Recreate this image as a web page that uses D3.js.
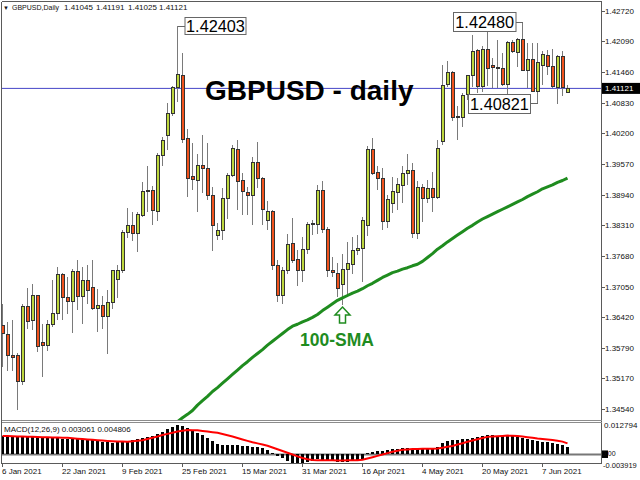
<!DOCTYPE html>
<html><head><meta charset="utf-8">
<script src="https://cdn.jsdelivr.net/npm/d3@7"></script>
<style>
body{margin:0;background:#fff}
svg{display:block}
text{font-family:"Liberation Sans",Arial,sans-serif}
</style>
</head><body>
<svg id="chart" width="640" height="480"></svg>
<script>
// ---------------- DATA ----------------
const symbolTitle = "GBPUSD - daily";
const headerText = ["GBPUSD,Daily", "1.41045", "1.41191", "1.41025", "1.41121"];
const firstDay = "2021-01-06", lastDay = "2021-06-14";

const open = [1.3626,1.3607,1.3563,1.3564,1.3511,1.3664,1.3636,1.3686,1.3591,1.3584,
1.3628,1.3650,1.3730,1.3683,1.3675,1.3737,1.3685,1.3718,1.3703,1.3660,
1.3667,1.3644,1.3672,1.3720,1.3738,1.3816,1.3830,1.3814,1.3851,1.3900,
1.3902,1.3859,1.3974,1.4015,1.4061,1.4114,1.4138,1.4010,1.3932,1.3924,
1.3953,1.3948,1.3893,1.3810,1.3820,1.3887,1.3934,1.3987,1.3924,1.3899,
1.3892,1.3960,1.3928,1.3841,1.3860,1.3748,1.3686,1.3738,1.3794,1.3761,
1.3738,1.3782,1.3833,1.3833,1.3902,1.3823,1.3738,1.3732,1.3710,1.3741,
1.3751,1.3779,1.3784,1.3830,1.3987,1.3939,1.3928,1.3839,1.3876,1.3898,
1.3912,1.3937,1.3943,1.3814,1.3909,1.3886,1.3907,1.3889,1.4003,1.4120,
1.4144,1.4055,1.4053,1.4099,1.4138,1.4190,1.4115,1.4192,1.4159,1.4156,
1.4152,1.4120,1.4207,1.4185,1.4213,1.4149,1.4172,1.4106,1.4159,1.4179,
1.4157,1.4113,1.4178,1.41045];
const high = [1.3670,1.3633,1.3636,1.3568,1.3670,1.3703,1.3710,1.3688,1.3629,1.3636,
1.3718,1.3746,1.3734,1.3724,1.3742,1.3760,1.3746,1.3749,1.3760,1.3701,
1.3685,1.3698,1.3739,1.3749,1.3821,1.3866,1.3859,1.3859,1.3919,1.3953,
1.3911,1.3979,1.4012,1.4082,1.4116,1.42403,1.4184,1.4029,1.4000,1.3978,
1.4017,1.3999,1.3910,1.3835,1.3907,1.3938,1.3996,1.4007,1.3938,1.3910,
1.3972,1.4003,1.3931,1.3880,1.3863,1.3760,1.3746,1.3814,1.3847,1.3780,
1.3808,1.3838,1.3842,1.3914,1.3921,1.3828,1.3766,1.3753,1.3773,1.3797,
1.3808,1.3811,1.3849,1.3994,1.4010,1.3952,1.3948,1.3893,1.3931,1.3928,
1.3952,1.3978,1.3959,1.3921,1.3916,1.3924,1.3941,1.4007,1.4161,1.4168,
1.4147,1.4075,1.4103,1.4140,1.4221,1.4192,1.4199,1.4234,1.4175,1.4212,
1.4185,1.4209,1.4212,1.4216,1.4248,1.4205,1.4205,1.4205,1.4188,1.4190,
1.4192,1.4181,1.4188,1.41191];
const low = [1.3540,1.3533,1.3533,1.3451,1.3504,1.3618,1.3617,1.3571,1.3520,1.3573,
1.3622,1.3636,1.3636,1.3648,1.3610,1.3658,1.3629,1.3670,1.3657,1.3612,
1.3619,1.3566,1.3660,1.3681,1.3734,1.3804,1.3799,1.3777,1.3849,1.3859,
1.3832,1.3840,1.3952,1.3986,1.4055,1.4085,1.4001,1.3889,1.3904,1.3859,
1.3897,1.3883,1.3779,1.3801,1.3801,1.3845,1.3930,1.3863,1.3852,1.3852,
1.3832,1.3907,1.3832,1.3821,1.3739,1.3674,1.3670,1.3731,1.3753,1.3706,
1.3715,1.3773,1.3811,1.3813,1.3815,1.3725,1.3725,1.3684,1.3667,1.3688,
1.3732,1.3770,1.3715,1.3809,1.3934,1.3904,1.3821,1.3825,1.3856,1.3862,
1.3876,1.3914,1.3804,1.3802,1.3838,1.3876,1.3859,1.3886,1.3996,1.4115,
1.4046,1.4007,1.4033,1.4089,1.4115,1.4103,1.4104,1.4116,1.4113,1.4113,
1.4118,1.4085,1.4185,1.4157,1.4147,1.4113,1.4104,1.40821,1.4120,1.4140,
1.4113,1.4080,1.4096,1.41025];
const close = [1.3609,1.3564,1.3559,1.3511,1.3664,1.3634,1.3686,1.3583,1.3584,1.3628,
1.3650,1.3730,1.3683,1.3675,1.3737,1.3685,1.3718,1.3698,1.3660,1.3667,
1.3644,1.3672,1.3738,1.3738,1.3816,1.3830,1.3814,1.3854,1.3900,1.3902,
1.3861,1.3974,1.4005,1.4061,1.4113,1.4140,1.4008,1.3928,1.3926,1.3953,
1.3948,1.3893,1.3830,1.3820,1.3887,1.3934,1.3989,1.3921,1.3900,1.3892,
1.3960,1.3928,1.3864,1.3859,1.3748,1.3688,1.3738,1.3792,1.3758,1.3738,
1.3782,1.3833,1.3835,1.3902,1.3823,1.3738,1.3734,1.3701,1.3741,1.3752,
1.3779,1.3784,1.3840,1.3987,1.3938,1.3928,1.3839,1.3884,1.3900,1.3914,
1.3938,1.3943,1.3814,1.3909,1.3886,1.3906,1.3889,1.3988,1.4118,1.4144,
1.4053,1.4052,1.4097,1.4138,1.4187,1.4115,1.4192,1.4152,1.4154,1.4152,
1.4120,1.4207,1.4188,1.4213,1.4149,1.4171,1.4106,1.4166,1.4181,1.4157,
1.4116,1.4178,1.4113,1.41121];

// 100-period simple moving average (bars before index 35 lie below the visible range)
const sma100 = [null,null,null,null,null,null,null,null,null,null,
null,null,null,null,null,null,null,null,null,null,
null,null,null,null,null,null,null,null,null,null,
null,null,null,null,null,1.3428,1.3436,1.3443,1.3451,1.3462,
1.3471,1.3480,1.3490,1.3498,1.3507,1.3516,1.3525,1.3534,1.3543,1.3551,
1.3560,1.3568,1.3576,1.3585,1.3593,1.3601,1.3609,1.3617,1.3624,1.3628,
1.3633,1.3637,1.3642,1.3648,1.3656,1.3663,1.3670,1.3677,1.3682,1.3687,
1.3692,1.3696,1.3701,1.3707,1.3712,1.3718,1.3724,1.3729,1.3734,1.3737,
1.3741,1.3744,1.3748,1.3751,1.3757,1.3765,1.3773,1.3782,1.3789,1.3797,
1.3804,1.3811,1.3818,1.3825,1.3831,1.3838,1.3844,1.3849,1.3854,1.3859,
1.3864,1.3869,1.3874,1.3879,1.3884,1.3890,1.3895,1.3900,1.3906,1.3910,
1.3914,1.3919,1.3923,1.3928];

// MACD(12,26,9): main (histogram) and signal line
const macdMain = [0.00805,0.00805,0.00791,0.00777,0.00777,0.00791,0.00791,0.00763,0.00735,0.00721,
0.00707,0.00707,0.00693,0.00678,0.00678,0.00664,0.0065,0.00636,0.00608,0.0058,
0.00551,0.00523,0.00509,0.00523,0.00537,0.0058,0.00622,0.00664,0.00721,0.00777,
0.00805,0.0089,0.00975,0.01087,0.01178,0.012794,0.0124,0.01152,0.01042,0.00944,
0.00834,0.00721,0.0058,0.00439,0.00396,0.00396,0.0041,0.0041,0.00382,0.00354,
0.00326,0.00312,0.00269,0.00185,0.00072,-0.00069,-0.00154,-0.0030,-0.0036,-0.003919,
-0.0037,-0.0032,-0.0027,-0.0020,-0.0022,-0.0025,-0.0028,-0.0032,-0.0034,-0.0033,
-0.0030,-0.0027,-0.0022,0.00044,0.00128,0.00157,0.00171,0.00199,0.00227,0.00255,
0.00283,0.00269,0.00241,0.00241,0.00255,0.00255,0.00255,0.0034,0.00481,0.0058,
0.00608,0.00622,0.0065,0.00693,0.00735,0.00777,0.00805,0.00834,0.00834,0.00819,
0.00805,0.00805,0.00791,0.00777,0.00721,0.00664,0.00622,0.00594,0.00551,0.00523,
0.00481,0.00453,0.00425,0.003061];
const macdSignal = [0.00803,0.00797,0.0079,0.00784,0.00777,0.00772,0.00764,0.00759,0.00752,0.00746,
0.00739,0.00733,0.00726,0.00721,0.00702,0.00685,0.00669,0.00653,0.00636,0.00621,
0.00605,0.0059,0.00577,0.00568,0.0056,0.00553,0.00574,0.00595,0.00616,0.00671,
0.00726,0.0078,0.00845,0.00894,0.00946,0.00997,0.0103,0.01059,0.01054,0.01048,
0.01023,0.00996,0.00968,0.00942,0.00887,0.00832,0.00777,0.00716,0.00653,0.0059,
0.00532,0.00481,0.0043,0.00377,0.003,0.00224,0.00148,0.00075,-0.00001,-0.0008,
-0.00155,-0.00205,-0.00235,-0.0025,-0.00252,-0.00254,-0.00256,-0.00258,-0.00258,-0.00256,
-0.00252,-0.00246,-0.00225,-0.00175,-0.0012,-0.0006,0.0000,0.0006,0.00115,0.0016,
0.0020,0.0022,0.00233,0.00238,0.00243,0.00247,0.00251,0.00255,0.00293,0.00331,
0.00372,0.00432,0.00491,0.0055,0.00605,0.0066,0.00712,0.00764,0.00779,0.00793,
0.00805,0.00819,0.00808,0.00797,0.0078,0.0075,0.00721,0.00691,0.0067,0.00649,
0.00628,0.00598,0.00559,0.004806];

const priceTicks = ["1.42720","1.42090","1.41460","1.40830","1.40200","1.39570","1.38940",
"1.38310","1.37680","1.37050","1.36420","1.35790","1.35170","1.34540"];
const currentPrice = 1.41121;
const macdTicks = ["0.012794", "-0.003919"];
const dateTicks = ["6 Jan 2021","22 Jan 2021","9 Feb 2021","25 Feb 2021","15 Mar 2021",
"31 Mar 2021","16 Apr 2021","4 May 2021","20 May 2021","7 Jun 2021"];

const priceLabels = [ {text:"1.42403", price:1.42403, bar:35},
                      {text:"1.42480", price:1.42480, bar:104},
                      {text:"1.40821", price:1.40821, bar:107} ];
const smaLabel = "100-SMA";

// ---------------- LAYOUT ----------------
const svg = d3.select("#chart");
const L = 1.5, R = 601.5, T = 1.5, B = 463.5;
const fmtKey = d3.utcFormat("%Y-%m-%d");
const parseTick = d3.utcParse("%d %b %Y");
const days = d3.utcDays(new Date(firstDay+"T00:00:00Z"), d3.utcDay.offset(new Date(lastDay+"T00:00:00Z"),1))
               .filter(d => d.getUTCDay() !== 0 && d.getUTCDay() !== 6).map(fmtKey);

const x = d3.scaleBand().domain(days).range([0, 5*days.length]);
const cx = i => x(days[i]) + x.bandwidth()/2;
const y = d3.scaleLinear().domain([1.34540, 1.42720]).range([409, 10.5]);
const ym = d3.scaleLinear().domain([-0.003919, 0.012794]).range([B, 425]);

const defs = svg.append("defs");
defs.append("clipPath").attr("id","clipMain").append("rect").attr("x",L+0.5).attr("y",T+0.5).attr("width",R-L-1).attr("height",420-T-0.5);
defs.append("clipPath").attr("id","clipMacd").append("rect").attr("x",L+0.5).attr("y",423).attr("width",R-L-1).attr("height",B-423);

const COL_UP = "#bdd63d", COL_DN = "#f0521d", COL_OUT = "#333333", COL_WICK = "#7a7a7a";
const GREEN = "#1f8c1f";

// current price line
svg.append("line").attr("x1",L).attr("x2",R).attr("y1",y(currentPrice)).attr("y2",y(currentPrice))
   .attr("stroke","#4646c8").attr("stroke-width",1);

// candles
const main = svg.append("g").attr("clip-path","url(#clipMain)");
const idx = d3.range(days.length);
const cg = main.append("g").attr("shape-rendering","crispEdges");
cg.selectAll("line.w").data(idx).join("line").attr("class","w")
  .attr("x1",i=>cx(i)).attr("x2",i=>cx(i)).attr("y1",i=>y(high[i])).attr("y2",i=>y(low[i]))
  .attr("stroke",COL_WICK).attr("stroke-width",1);
cg.selectAll("rect.b").data(idx).join("rect").attr("class","b")
  .attr("x",i=>cx(i)-1.5).attr("width",3)
  .attr("y",i=>y(Math.max(open[i],close[i])))
  .attr("height",i=>Math.max(1, Math.abs(y(open[i])-y(close[i]))))
  .attr("fill",i=>close[i]>=open[i]?COL_UP:COL_DN)
  .attr("stroke",COL_OUT).attr("stroke-width",1);

// 100 SMA
main.append("path").datum(idx.filter(i=>sma100[i]!=null))
  .attr("d", d3.line().x(i=>cx(i)).y(i=>y(sma100[i])))
  .attr("fill","none").attr("stroke",GREEN).attr("stroke-width",3).attr("stroke-linejoin","round");

// MACD panel
const mg = svg.append("g").attr("clip-path","url(#clipMacd)");
mg.append("line").attr("x1",L).attr("x2",R).attr("y1",ym(0)).attr("y2",ym(0))
  .attr("stroke","#777").attr("stroke-width",2);
mg.append("g").attr("shape-rendering","crispEdges").selectAll("rect").data(idx).join("rect")
  .attr("x",i=>cx(i)-1.5).attr("width",3)
  .attr("y",i=>ym(Math.max(0,macdMain[i])))
  .attr("height",i=>Math.abs(ym(macdMain[i])-ym(0)))
  .attr("fill","#000");
mg.append("path").datum(idx)
  .attr("d", d3.line().x(i=>cx(i)).y(i=>ym(macdSignal[i])))
  .attr("fill","none").attr("stroke","#ff0000").attr("stroke-width",2);

// frame
const fr = svg.append("g").attr("stroke","#5a5a5a").attr("stroke-width",1).attr("shape-rendering","crispEdges");
fr.append("line").attr("x1",L).attr("x2",L).attr("y1",T).attr("y2",B);
fr.append("line").attr("x1",R).attr("x2",R).attr("y1",T).attr("y2",B);
fr.append("line").attr("x1",L).attr("x2",R).attr("y1",T).attr("y2",T);
fr.append("line").attr("x1",L).attr("x2",R).attr("y1",B).attr("y2",B);
fr.append("line").attr("x1",L).attr("x2",R).attr("y1",420.5).attr("y2",420.5).attr("stroke","#8c8c8c");
fr.append("line").attr("x1",L).attr("x2",R).attr("y1",422.5).attr("y2",422.5).attr("stroke","#8c8c8c");

// right price axis
const ax = svg.append("g").attr("font-size",8).attr("fill","#111");
priceTicks.forEach(t => {
  const v = +t;
  ax.append("line").attr("x1",R).attr("x2",R+3).attr("y1",Math.round(y(v))+0.5).attr("y2",Math.round(y(v))+0.5)
    .attr("stroke","#5a5a5a").attr("shape-rendering","crispEdges");
  ax.append("text").attr("x",605).attr("y",y(v)+3).text(t);
});
ax.append("rect").attr("x",602).attr("y",y(currentPrice)-5.5).attr("width",38).attr("height",11).attr("fill","#000");
ax.append("text").attr("x",605).attr("y",y(currentPrice)+3).attr("fill","#fff").text(currentPrice.toFixed(5));

// MACD axis labels
ax.append("text").attr("x",604).attr("y",ym(+macdTicks[0])+3).text(macdTicks[0]);
ax.append("text").attr("x",603).attr("y",467.5).attr("font-size",7.5).text(macdTicks[1]);
ax.append("rect").attr("x",602).attr("y",ym(0)-4).attr("width",6).attr("height",7.5).attr("fill","#000");
ax.append("text").attr("x",602).attr("y",ym(0)+2).attr("font-size",7).text("0.00");

// bottom date axis
dateTicks.forEach(t => {
  const k = fmtKey(parseTick(t));
  const px = x(k) + 2;
  ax.append("line").attr("x1",Math.round(px)+0.5).attr("x2",Math.round(px)+0.5).attr("y1",B).attr("y2",B+3)
    .attr("stroke","#5a5a5a").attr("shape-rendering","crispEdges");
  ax.append("text").attr("x",px).attr("y",474).text(t);
});

// header texts
const hd = svg.append("g").attr("font-size",8).attr("fill","#111");
hd.append("text").attr("x",3).attr("y",9.5).attr("font-size",6).text("▼");
hd.append("text").attr("x",12).attr("y",10).attr("font-size",7.2).attr("textLength",47).attr("lengthAdjust","spacingAndGlyphs").text(headerText[0]);
[64,96,128,159].forEach((px,j)=> hd.append("text").attr("x",px).attr("y",10).text(headerText[j+1]));
hd.append("text").attr("x",4).attr("y",432).text(`MACD(12,26,9) ${macdMain[macdMain.length-1].toFixed(6)} ${macdSignal[macdSignal.length-1].toFixed(6)}`);

// title
svg.append("text").attr("x",205).attr("y",100).attr("font-size",28).attr("font-weight","bold")
  .attr("fill","#000").text(symbolTitle);

// price labels with leaders
const boxes = [ {x:185, y:17.5, w:61, h:17, side:"left"},
                {x:453.5, y:12.5, w:62.5, h:19, side:"right"},
                {x:468.5, y:94.5, w:62, h:19, side:"right"} ];
priceLabels.forEach((lb, j) => {
  const b = boxes[j], py = Math.round(y(lb.price))+0.5, bx = cx(lb.bar);
  const edge = b.side==="left" ? b.x : b.x + b.w;
  svg.append("line").attr("x1",bx).attr("x2",edge).attr("y1",py).attr("y2",py)
     .attr("stroke","#666").attr("shape-rendering","crispEdges");
  svg.append("rect").attr("x",b.x).attr("y",b.y).attr("width",b.w).attr("height",b.h)
     .attr("fill","#fff").attr("stroke","#666").attr("stroke-width",1);
  svg.append("text").attr("x",b.x+b.w/2).attr("y",b.y+b.h/2+6).attr("text-anchor","middle")
     .attr("font-size",16.3).attr("fill","#000").text(lb.text);
});

// SMA annotation: arrow + label
const ac = cx(68);
svg.append("path")
  .attr("d",`M${ac},307 L${ac+7.5},315 L${ac+3},315 L${ac+3},323 L${ac-3},323 L${ac-3},315 L${ac-7.5},315 Z`)
  .attr("fill","#fff").attr("stroke",GREEN).attr("stroke-width",1.5).attr("stroke-linejoin","miter");
svg.append("text").attr("x",300).attr("y",346).attr("font-size",17.5).attr("font-weight","bold")
  .attr("fill",GREEN).text(smaLabel);
</script>
</body></html>
